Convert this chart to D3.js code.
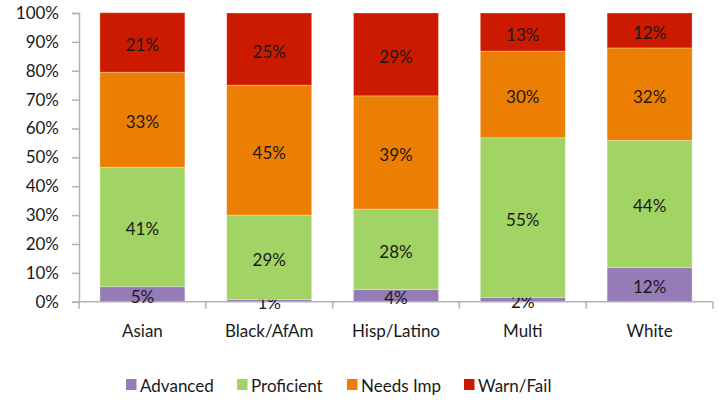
<!DOCTYPE html>
<html><head><meta charset="utf-8">
<script src="https://cdn.jsdelivr.net/npm/d3@7"></script>
<style>body{margin:0;background:#fff}svg{display:block}text{font-family:Lato,"Open Sans",sans-serif;fill:#1a1a1a}</style>
</head><body><svg id="c" width="722" height="402"></svg>
<script>
const categories = ["Asian","Black/AfAm","Hisp/Latino","Multi","White"];
const seriesNames = ["Advanced","Proficient","Needs Imp","Warn/Fail"];
const advanced   = [5.2, 0.7, 4.2, 1.5, 11.8];
const proficient = [41.4, 29.3, 27.9, 55.3, 44.1];
const needsImp   = [32.9, 45.0, 39.2, 30.0, 32.0];
const warnFail   = [20.6, 25.0, 28.7, 13.2, 12.1];
const colors = ["#957cb6","#a2d465","#ec7f03","#cc1a00"];
const yTicks = [0,10,20,30,40,50,60,70,80,90,100];

const svg = d3.select("#c");
const m = {l:79, r:9, t:13, b:100};
const W = 722, H = 402;
const x = d3.scaleBand().domain(categories).range([79, 713]).paddingInner(0.33).paddingOuter(0.165);
const y = d3.scaleLinear().domain([0,100]).range([301.7, 13]);

const rows = categories.map((c,i)=>({cat:c, Advanced:advanced[i], Proficient:proficient[i], "Needs Imp":needsImp[i], "Warn/Fail":warnFail[i]}));
const stack = d3.stack().keys(seriesNames)(rows);

// axes
const yAxis = d3.axisLeft(y).tickValues(yTicks).tickFormat(d=>d+"%").tickSize(7).tickPadding(13);
const gy = svg.append("g").attr("transform","translate(79,0)").call(yAxis);
gy.selectAll("path,line").attr("stroke","#b3b3b3").attr("stroke-width",1.5);
gy.selectAll("text").attr("font-size",17).attr("fill","#1a1a1a");

const xb = d3.scaleBand().domain(categories).range([79,713]);
const gx = svg.append("g").attr("transform","translate(0,301.7)");
gx.append("line").attr("x1",79).attr("x2",713).attr("stroke","#b3b3b3").attr("stroke-width",1.5);
const bounds = [xb.range()[0]].concat(categories.map(c=>xb(c)+xb.bandwidth()));
gx.selectAll("line.t").data(bounds).enter().append("line").attr("class","t")
  .attr("x1",d=>d).attr("x2",d=>d).attr("y1",0).attr("y2",7).attr("stroke","#b3b3b3").attr("stroke-width",1.5);
gx.selectAll("text").data(categories).enter().append("text")
  .attr("x",d=>xb(d)+xb.bandwidth()/2).attr("y",29).attr("text-anchor","middle")
  .attr("dominant-baseline","central").attr("font-size",17).text(d=>d);

// bars
const layers = svg.append("g").selectAll("g").data(stack).enter().append("g").attr("fill",(d,i)=>colors[i]);
layers.selectAll("rect").data(d=>d).enter().append("rect")
  .attr("x",d=>x(d.data.cat)).attr("width",x.bandwidth())
  .attr("y",d=>y(d[1])).attr("height",d=>y(d[0])-y(d[1]))
  .attr("stroke","#ffffff").attr("stroke-opacity",0.35).attr("stroke-width",0.8);

// labels
layers.selectAll("text").data(d=>d).enter().append("text")
  .attr("x",d=>x(d.data.cat)+x.bandwidth()/2)
  .attr("y",d=>(y(d[0])+y(d[1]))/2+2)
  .attr("text-anchor","middle").attr("dominant-baseline","central")
  .attr("font-size",17).attr("fill","#111")
  .text(d=>Math.round(d[1]-d[0])+"%");

// legend
const legX = [126, 237, 347, 464];
const lg = svg.append("g");
seriesNames.forEach((s,i)=>{
  lg.append("rect").attr("x",legX[i]).attr("y",379).attr("width",10.5).attr("height",11).attr("fill",colors[i]);
  lg.append("text").attr("x",legX[i]+14).attr("y",385).attr("dominant-baseline","central").attr("font-size",17).text(s);
});
</script></body></html>
